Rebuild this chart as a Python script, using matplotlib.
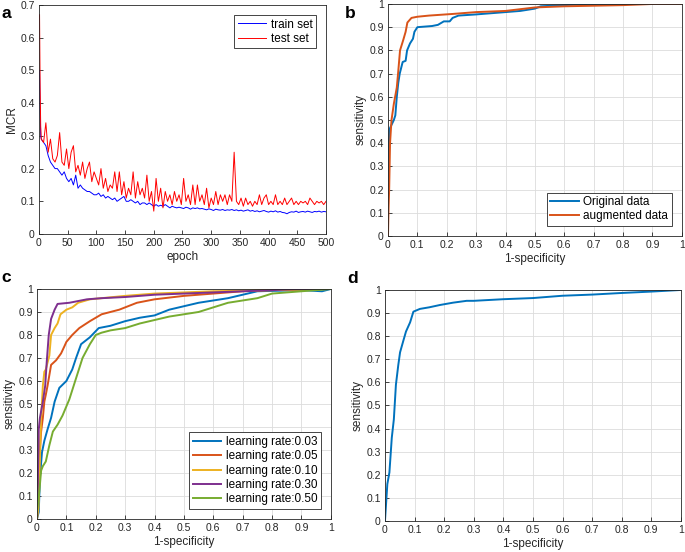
import matplotlib
matplotlib.use("Agg")
import matplotlib.pyplot as plt

plt.rcParams["font.family"] = ["Liberation Sans", "DejaVu Sans"]

# ---- panel a: MCR vs epoch ----
epochs = [1, 2, 3] + list(range(4, 501, 4))

test_mcr = [0.67, 0.45, 0.33,
            0.29, 0.28, 0.34, 0.25, 0.29, 0.23, 0.22, 0.24, 0.31, 0.22,
            0.21, 0.26, 0.20, 0.25, 0.27, 0.19, 0.21, 0.18, 0.22, 0.17,
            0.20, 0.22, 0.16, 0.19, 0.17, 0.15, 0.20, 0.14, 0.17, 0.13,
            0.15, 0.14, 0.19, 0.13, 0.19, 0.12, 0.16, 0.11, 0.14, 0.12,
            0.19, 0.11, 0.16, 0.12, 0.14, 0.11, 0.18, 0.10, 0.13, 0.07,
            0.17, 0.10, 0.14, 0.08, 0.13, 0.10, 0.12, 0.09, 0.13, 0.10,
            0.12, 0.09, 0.17, 0.10, 0.12, 0.09, 0.15, 0.09, 0.15, 0.10,
            0.12, 0.09, 0.14, 0.08, 0.11, 0.09, 0.13, 0.09, 0.12, 0.10,
            0.12, 0.09, 0.12, 0.10, 0.25, 0.10, 0.09, 0.11, 0.085, 0.11,
            0.09, 0.10, 0.085, 0.10, 0.09, 0.12, 0.09, 0.11, 0.12, 0.09,
            0.10, 0.09, 0.12, 0.09, 0.10, 0.09, 0.11, 0.09, 0.10, 0.11,
            0.09, 0.10, 0.09, 0.10, 0.095, 0.10, 0.09, 0.11, 0.10, 0.09,
            0.10, 0.095, 0.10, 0.09, 0.10]

train_mcr = [0.50, 0.38, 0.30,
             0.29, 0.28, 0.27, 0.24, 0.22, 0.21, 0.20, 0.20, 0.19, 0.18,
             0.19, 0.17, 0.16, 0.17, 0.15, 0.18, 0.14, 0.15, 0.14, 0.135,
             0.13, 0.13, 0.125, 0.12, 0.12, 0.125, 0.115, 0.12, 0.11, 0.115,
             0.11, 0.105, 0.11, 0.10, 0.105, 0.11, 0.115, 0.10, 0.10, 0.105,
             0.10, 0.095, 0.10, 0.09, 0.095, 0.095, 0.09, 0.095, 0.09, 0.085,
             0.09, 0.085, 0.088, 0.085, 0.09, 0.085, 0.08, 0.085, 0.082, 0.08,
             0.082, 0.08, 0.078, 0.082, 0.08, 0.076, 0.08, 0.078, 0.08, 0.077,
             0.078, 0.076, 0.074, 0.077, 0.075, 0.072, 0.076, 0.074, 0.073, 0.075,
             0.072, 0.074, 0.073, 0.075, 0.072, 0.074, 0.071, 0.073, 0.07, 0.072,
             0.074, 0.07, 0.072, 0.069, 0.071, 0.068, 0.07, 0.072, 0.069, 0.067,
             0.07, 0.068, 0.071, 0.067, 0.069, 0.066, 0.065, 0.062, 0.066, 0.068,
             0.067, 0.07, 0.066, 0.068, 0.069, 0.067, 0.07, 0.068, 0.066, 0.069,
             0.068, 0.07, 0.067, 0.069, 0.068]

# ---- panel b: ROC, original vs augmented ----
orig_fpr = [0, 0, 0.003, 0.005, 0.02, 0.025, 0.03, 0.035, 0.04, 0.05, 0.06, 0.065,
            0.075, 0.085, 0.09, 0.1, 0.15, 0.17, 0.19, 0.21, 0.22, 0.24, 0.3, 0.35,
            0.4, 0.45, 0.5, 0.52, 0.6, 0.68, 1.0]
orig_tpr = [0.12, 0.33, 0.40, 0.46, 0.50, 0.52, 0.60, 0.66, 0.70, 0.75, 0.755, 0.80,
            0.83, 0.85, 0.88, 0.90, 0.905, 0.91, 0.925, 0.925, 0.94, 0.95, 0.955, 0.96,
            0.965, 0.97, 0.98, 0.99, 0.995, 1.0, 1.0]
aug_fpr = [0, 0.002, 0.004, 0.007, 0.012, 0.02, 0.03, 0.035, 0.041, 0.052, 0.06, 0.066,
           0.08, 0.10, 0.14, 0.22, 0.3, 0.4, 0.5, 0.6, 0.8, 0.9, 1.0]
aug_tpr = [0, 0.12, 0.2, 0.4, 0.5, 0.57, 0.64, 0.71, 0.80, 0.845, 0.88, 0.92,
           0.94, 0.945, 0.95, 0.957, 0.965, 0.97, 0.985, 0.99, 0.995, 1.0, 1.0]

# ---- panel c: ROC for learning rates ----
lr_labels = ["learning rate:0.03", "learning rate:0.05", "learning rate:0.10",
             "learning rate:0.30", "learning rate:0.50"]
lr03_fpr = [0, 0.006, 0.01, 0.017, 0.025, 0.036, 0.048, 0.06, 0.076, 0.1, 0.12, 0.133,
            0.15, 0.18, 0.21, 0.25, 0.3, 0.35, 0.4, 0.45, 0.5, 0.55, 0.6, 0.65, 0.7,
            0.75, 0.9, 0.97, 1.0]
lr03_tpr = [0.0, 0.03, 0.18, 0.29, 0.34, 0.39, 0.44, 0.51, 0.57, 0.60, 0.65, 0.70,
            0.76, 0.79, 0.83, 0.84, 0.86, 0.875, 0.885, 0.91, 0.925, 0.94, 0.95, 0.96, 0.975,
            0.99, 0.995, 0.99, 1.0]
lr05_fpr = [0, 0.005, 0.008, 0.014, 0.02, 0.025, 0.03, 0.036, 0.048, 0.065, 0.082, 0.093,
            0.1, 0.12, 0.144, 0.18, 0.22, 0.28, 0.34, 0.4, 0.5, 0.6, 0.7, 0.8, 1.0]
lr05_tpr = [0, 0.1, 0.26, 0.38, 0.44, 0.51, 0.54, 0.58, 0.67, 0.69, 0.72, 0.75,
            0.77, 0.80, 0.83, 0.86, 0.89, 0.91, 0.94, 0.955, 0.97, 0.98, 0.99, 0.995, 1.0]
lr10_fpr = [0, 0.005, 0.014, 0.02, 0.025, 0.03, 0.042, 0.048, 0.06, 0.07, 0.08, 0.1,
            0.12, 0.14, 0.18, 0.22, 0.3, 0.4, 0.5, 0.6, 0.8, 1.0]
lr10_tpr = [0, 0.05, 0.44, 0.58, 0.64, 0.65, 0.71, 0.80, 0.83, 0.85, 0.89, 0.91,
            0.92, 0.94, 0.955, 0.96, 0.97, 0.98, 0.985, 0.99, 0.995, 1.0]
lr30_fpr = [0, 0.002, 0.006, 0.01, 0.02, 0.028, 0.033, 0.04, 0.048, 0.06, 0.07, 0.11,
            0.17, 0.22, 0.3, 0.4, 0.5, 0.6, 0.7, 0.8, 0.9, 1.0]
lr30_tpr = [0.05, 0.09, 0.39, 0.44, 0.51, 0.58, 0.68, 0.80, 0.87, 0.91, 0.935, 0.94,
            0.955, 0.96, 0.965, 0.975, 0.98, 0.985, 0.99, 0.995, 1.0, 1.0]
lr50_fpr = [0, 0.008, 0.014, 0.02, 0.03, 0.042, 0.054, 0.07, 0.087, 0.11, 0.13, 0.155,
            0.18, 0.2, 0.22, 0.25, 0.3, 0.35, 0.4, 0.45, 0.5, 0.55, 0.6, 0.65, 0.7,
            0.75, 0.8, 0.9, 1.0]
lr50_tpr = [0.03, 0.12, 0.21, 0.23, 0.25, 0.32, 0.38, 0.41, 0.45, 0.52, 0.60, 0.70,
            0.76, 0.80, 0.81, 0.82, 0.83, 0.85, 0.865, 0.88, 0.89, 0.90, 0.92, 0.94, 0.95,
            0.96, 0.98, 0.99, 1.0]

# ---- panel d: single ROC ----
final_fpr = [0, 0.008, 0.015, 0.023, 0.03, 0.037, 0.045, 0.051, 0.062, 0.071, 0.085,
             0.096, 0.118, 0.15, 0.186, 0.23, 0.276, 0.3, 0.4, 0.5, 0.6, 0.7, 0.8, 0.9, 1.0]
final_tpr = [0, 0.16, 0.21, 0.36, 0.44, 0.59, 0.675, 0.73, 0.78, 0.82, 0.86,
             0.906, 0.918, 0.925, 0.935, 0.945, 0.953, 0.953, 0.96, 0.965, 0.975, 0.98,
             0.987, 0.993, 1.0]

MATLAB_COLORS = ["#0072BD", "#D95319", "#EDB120", "#7E2F8E", "#77AC30"]
TXT = "#262626"
unit_ticks = [i / 10 for i in range(11)]
unit_labels = ["0"] + [f"{t:.1f}" for t in unit_ticks[1:-1]] + ["1"]


def style_axes(ax, grid=True):
    for s in ax.spines.values():
        s.set_color("#262626")
        s.set_linewidth(0.6)
    ax.tick_params(direction="in", length=3, width=0.6, labelsize=7.5,
                   colors=TXT, pad=3)
    if grid:
        ax.grid(True, color="#dcdcdc", linewidth=0.6)
        ax.set_axisbelow(True)


def roc_axes(ax):
    ax.set_xlim(0, 1)
    ax.set_ylim(0, 1)
    ax.set_xticks(unit_ticks)
    ax.set_xticklabels(unit_labels)
    ax.set_yticks(unit_ticks)
    ax.set_yticklabels(unit_labels)
    ax.set_xlabel("1-specificity", fontsize=8.5, color=TXT, labelpad=2)
    ax.set_ylabel("sensitivity", fontsize=8.5, color=TXT, labelpad=2)
    style_axes(ax)


def matlab_legend(ax, loc, fontsize=8.5):
    leg = ax.legend(loc=loc, fancybox=False, framealpha=1, edgecolor="#262626",
                    fontsize=fontsize, handlelength=2.4, borderpad=0.3,
                    labelspacing=0.2, handletextpad=0.4, borderaxespad=0.85)
    leg.get_frame().set_linewidth(0.6)
    return leg


fig = plt.figure(figsize=(6.85, 5.52), dpi=100)

ax_a = fig.add_axes([0.0569, 0.576, 0.419, 0.415])
ax_b = fig.add_axes([0.5664, 0.5725, 0.429, 0.4203])
ax_c = fig.add_axes([0.054, 0.0598, 0.429, 0.4167])
ax_d = fig.add_axes([0.562, 0.0562, 0.432, 0.4185])

# a
ax_a.plot(epochs, train_mcr, color="blue", lw=0.7, label="train set")
ax_a.plot(epochs, test_mcr, color="red", lw=0.7, label="test set")
ax_a.set_xlim(0, 500)
ax_a.set_ylim(0, 0.7)
ax_a.set_xticks(range(0, 501, 50))
ax_a.set_yticks([i / 10 for i in range(8)])
ax_a.set_yticklabels(["0"] + [f"{i / 10:.1f}" for i in range(1, 8)])
ax_a.set_xlabel("epoch", fontsize=8.5, color=TXT, labelpad=2)
ax_a.set_ylabel("MCR", fontsize=8.5, color=TXT, labelpad=2)
style_axes(ax_a, grid=False)
matlab_legend(ax_a, "upper right")

# b
ax_b.plot(orig_fpr, orig_tpr, color=MATLAB_COLORS[0], lw=1.4, label="Original data")
ax_b.plot(aug_fpr, aug_tpr, color=MATLAB_COLORS[1], lw=1.4, label="augmented data")
roc_axes(ax_b)
matlab_legend(ax_b, "lower right")

# c
lr_curves = [(lr03_fpr, lr03_tpr), (lr05_fpr, lr05_tpr), (lr10_fpr, lr10_tpr),
             (lr30_fpr, lr30_tpr), (lr50_fpr, lr50_tpr)]
for (fx, fy), lab, col in zip(lr_curves, lr_labels, MATLAB_COLORS):
    ax_c.plot(fx, fy, color=col, lw=1.4, label=lab)
roc_axes(ax_c)
matlab_legend(ax_c, "lower right")

# d
ax_d.plot(final_fpr, final_tpr, color=MATLAB_COLORS[0], lw=1.4)
roc_axes(ax_d)

# panel letters
for x, y, s in [(0.002, 0.975, "a"), (0.503, 0.975, "b"),
                (0.002, 0.497, "c"), (0.507, 0.495, "d")]:
    fig.text(x, y, s, fontsize=12.5, fontweight="bold", va="center", ha="left")

fig.savefig("out.png", dpi=100, facecolor="white")
